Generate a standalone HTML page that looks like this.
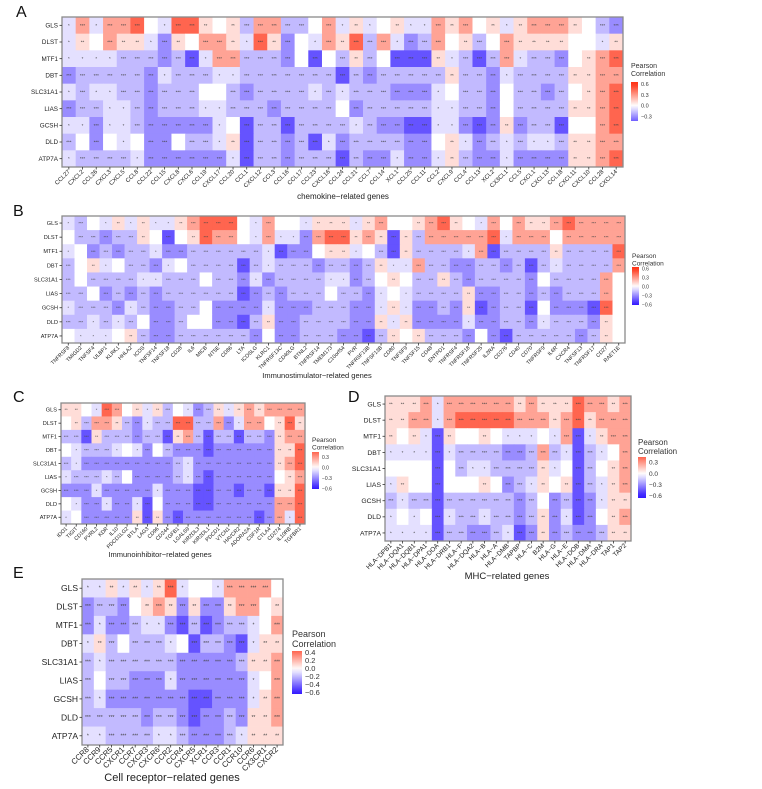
<!DOCTYPE html>
<html><head><meta charset="utf-8"><style>
html,body{margin:0;padding:0;background:#fff;}
svg{display:block;font-family:"Liberation Sans",Arial,sans-serif;}
</style></head><body>
<svg id="s" width="762" height="789" xmlns="http://www.w3.org/2000/svg"></svg>
<script>
const ROWS=["GLS","DLST","MTF1","DBT","SLC31A1","LIAS","GCSH","DLD","ATP7A"];
const VAL={R:0.45,r:0.27,p:0.1,w:0,l:-0.08,v:-0.18,V:-0.3,B:-0.45};
function col(v){let t=Math.min(1,Math.abs(v)/0.6);let c;
 if(v>=0)c=[255,255-205*t,255-235*t];else c=[255-205*t,255-230*t,255];
 return "rgb("+c.map(x=>Math.round(x)).join(",")+")";}
let out="";
function panel(P){
 const n=P.cols.length,cw=(P.x1-P.x0)/n,rh=(P.y1-P.y0)/9;
 P.data.forEach((s,i)=>{const a=s.split(/\s+/).filter(x=>x);
  for(let j=0;j<n;j++){const k=a[j]||"w";const v=VAL[k];
   const x=P.x0+j*cw,y=P.y0+i*rh;
   out+=`<rect x="${x.toFixed(2)}" y="${y.toFixed(2)}" width="${(cw+0.4).toFixed(2)}" height="${(rh+0.4).toFixed(2)}" fill="${col(v)}"/>`;
   if(k!="w"){const st=(Math.abs(v)>0.15)?"***":(Math.abs(v)>0.09?"**":"*");
    out+=`<text x="${(x+cw/2).toFixed(2)}" y="${(y+rh/2+1.5).toFixed(2)}" font-size="${P.sf}" fill="#444" text-anchor="middle">${st}</text>`;}
  }});
 out+=`<rect x="${P.x0}" y="${P.y0}" width="${P.x1-P.x0}" height="${P.y1-P.y0}" fill="none" stroke="#8a8a8a" stroke-width="1.3"/>`;
 ROWS.forEach((r,i)=>{const y=P.y0+(i+0.5)*rh;
  out+=`<text x="${P.x0-4}" y="${(y+P.fs*0.35).toFixed(2)}" font-size="${P.fs}" fill="#222" text-anchor="end">${r}</text>`;
  out+=`<line x1="${P.x0-2.5}" x2="${P.x0}" y1="${y}" y2="${y}" stroke="#333" stroke-width="0.8"/>`;});
 P.cols.forEach((c,j)=>{const x=P.x0+(j+0.5)*cw;
  out+=`<line x1="${x}" x2="${x}" y1="${P.y1}" y2="${P.y1+2.5}" stroke="#333" stroke-width="0.8"/>`;
  out+=`<text transform="translate(${(x+1.5).toFixed(2)},${P.y1+5}) rotate(-45)" font-size="${P.cf}" fill="#222" text-anchor="end">${c}</text>`;});
 out+=`<text x="${P.xl[0]}" y="${P.xl[1]}" font-size="${P.xf}" fill="#222" text-anchor="middle">${P.title}</text>`;
 out+=`<text x="${P.lx}" y="${P.L[1]}" font-size="${P.lf}" fill="#333">Pearson</text><text x="${P.lx}" y="${P.L[1]+P.lf+1}" font-size="${P.lf}" fill="#333">Correlation</text>`;
 const id="g"+P.lx+P.b0;
 out+=`<defs><linearGradient id="${id}" x1="0" y1="0" x2="0" y2="1">`;
 for(let k=0;k<=10;k++){const v=P.vmax-(P.vmax-P.vmin)*k/10;out+=`<stop offset="${k/10}" stop-color="${col(v)}"/>`;}
 out+=`</linearGradient></defs><rect x="${P.lx}" y="${P.b0}" width="${P.bw}" height="${P.b1-P.b0}" fill="url(#${id})"/>`;
 P.ticks.forEach(t=>{const y=P.b0+(P.vmax-t)/(P.vmax-P.vmin)*(P.b1-P.b0);
  out+=`<text x="${P.lx+P.bw+3}" y="${(y+2).toFixed(2)}" font-size="${P.lf-1.5}" fill="#333">${t==0?"0.0":(t<0?"−"+Math.abs(t).toFixed(1):t.toFixed(1))}</text>`;});
}
const A={x0:62,y0:17,x1:623,y1:167,fs:6.3,cf:6,sf:4.5,xf:8,lf:7,
 cols:"CCL27 CXCL2 CCL26 CXCL3 CXCL5 CCL8 CCL22 CCL15 CXCL8 CXCL6 CCL19 CXCL17 CCL20 CCL1 CXCL12 CCL3 CCL16 CCL17 CCL23 CXCL16 CCL24 CCL21 CCL7 CCL14 XCL1 CCL25 CCL11 CCL2 CXCL9 CCL4 CCL13 XCL2 CX3CL1 CCL5 CXCL1 CXCL13 CCL18 CXCL11 CXCL10 CCL28 CXCL14".split(" "),
 data:["l r l r r R w l R R p w p v r r v v w r l p l w p l l r p r w p l p r r r p w v V",
 "l p w r p p l V p w r r p l R p V w l r p R v r l V v r w p v w r p p p p w w l p",
 "l l l l v v v V v B l r r v v v V w B w v p v w B B B p l v B v r l v v V w p r R",
 "V v v v v v V l v v v l l v v v v v v v B v V v v v v v p v v V l v v v v p p r r",
 "l v l l v v V v v v w w v V v v v v l v l v v v V V V l w v v V w v v V v w p r R",
 "V v v l l v V v v v l l v v v V v v v v w V v v v v v l l v v V w v v v v p p r R",
 "l l V l l v V V V V V l w B v v B v v v v l v V V B B l l V B V p V v v B w w r R",
 "v w V w l w V V w v v l p B v v V v B l V v v v v V V w p l V v l v l l v p p r r",
 "l v v v v l V V V V V V l B v v V v v v B v V V l V V l p v V V l V V V V p p r R"],
 title:"chemokine−related genes",xl:[343,199],L:["",68],lx:631,b0:82,b1:121,bw:7,vmax:0.65,vmin:-0.42,ticks:[0.6,0.3,0,-0.3]};
const B={x0:62,y0:216,x1:625,y1:343,fs:5.6,cf:5.3,sf:4,xf:7.5,lf:6.5,
 cols:"TNFRSF8 TMIGD2 TNFSF4 ULBP1 KLRK1 HHLA2 ICOS TNFSF14 TNFSF18 CD28 IL6 MICB NT5E CD86 LTA ICOSLG KLRC1 TNFRSF13C CD40LG BTNL2 TNFRSF14 TMEM173 C10orf54 PVR TNFRSF13B TNFSF13B CD80 TNFSF9 TNFSF15 CD48 ENTPD1 TNFRSF4 TNFRSF18 TNFRSF25 IL2RA CD276 CD40 CD70 TNFRSF9 IL6R CXCR4 TNFSF13 TNFRSF17 CD27 RAET1E".split(" "),
 data:["l v w l p l p l l p r R R R w l r w w l p p p l p r w w p r R p w l r w r p p r R r r r r l",
 "w v v V v v p w B w p R r r w l r l l V r R R p r p B p v r r r r r R l r r r w r r r r r l",
 "l w V v V v v l V V v v v v v v l B V V w p p l w v B p v v v v l r B v v v v p v v v v R",
 "v w p l w v v V l w v v v v B v l v v v V v v V v p l l r v v V V v v V v B v l v v v v r",
 "v w v v v v l l v v v w v v V l V v v v v l l V v w p w v v p v V v v v v V w v v v v r",
 "v v w V v V v V v v v v v v B V v V v v v w v v V l w l v v v v p V V v v V v V v v v r",
 "l v v v V l v V V v v w V V V V l V V V v v v V V l p l V V v V p B V v v B w V V V B R",
 "v v l v l v w V V v w w V V B v p V V v v v v V V p l p V V V V l V V v v V l v v v V p",
 "w l l l w p v V V v v v v v v V w V V v v v V V B v p w p v v v V w V B v v v v v V v p"],
 title:"Immunostimulator−related genes",xl:[317,378],L:["",258],lx:632,b0:267,b1:305,bw:7,vmax:0.65,vmin:-0.62,ticks:[0.6,0.3,0,-0.3,-0.6]};
const C={x0:61,y0:403,x1:305,y1:524,fs:5.6,cf:5.3,sf:4,xf:7.5,lf:6.5,
 cols:"IDO1 TIGIT CD160 PVRL2 KDR IL10 PDCD1LG2 BTLA LAG3 CD96 CD244 TGFB1 LGALS9 KIR2DL3 KIR2DL1 PDCD1 VTCN1 HAVCR2 ADORA2A CSF1R CTLA4 CD274 IL10RB TGFBR1".split(" "),
 data:["p p w l R r w p l p v w l V v p l p r p r r r r",
 "w p v r r p v V l v v R R v v r V l r r w p R p",
 "v v B p v v v V v v B p r v B v v B v v V p r r",
 "w l v v v l w l V w v V V V B V V V V V V p p R",
 "v l V V V V V V V V V v l V V V V V V V V p r R",
 "l v v v l v w V V V V v l V B V V V V V V w p r",
 "V V V l V V V V V l V V V B B V V B V V B p p R",
 "w l V V l V V l B w V V V B B V V V V V V r r R",
 "l w V V V V V p B p V B V V V V V V V B V r l R"],
 title:"Immunoinhibitor−related genes",xl:[160,557],L:["",442],lx:312,b0:452,b1:489,bw:7,vmax:0.45,vmin:-0.62,ticks:[0.3,0,-0.3,-0.6]};
const D={x0:385,y0:396,x1:631,y1:541,fs:6.8,cf:6.5,sf:4.5,xf:9.5,lf:8,
 cols:"HLA−DPB1 HLA−DQA1 HLA−DQB1 HLA−DPA1 HLA−DOA HLA−DRB1 HLA−F HLA−DQA2 HLA−B HLA−A HLA−DMB TAPBP HLA−C B2M HLA−G HLA−E HLA−DOB HLA−DMA HLA−DRA TAP1 TAP2".split(" "),
 data:["p p p r l r r r r r r p r p p p R r r p r",
 "p p r r l r R R R R R r r r p r R p r r r",
 "p w p l B p w w p w l l l w l r B l p r r",
 "l l l l B l v v v v V V v r v l B v l w r",
 "w w w w B w v l l v v v v p l w B v w p r",
 "l p w w B w w w p w V v l p w p B v l p r",
 "v l v v B v v v v v v V v w V v B V l p p",
 "l w l w B l v v l v v V v p V l B V w p r",
 "l l l l B v v V V v l B V p V v V V v p p"],
 title:"MHC−related genes",xl:[507,579],L:["",445],lx:638,b0:457,b1:498,bw:8,vmax:0.45,vmin:-0.65,ticks:[0.3,0,-0.3,-0.6]};
const E={x0:82,y0:579,x1:283,y1:745,fs:8.5,cf:7.8,sf:5,xf:11,lf:9,
 cols:"CCR8 CCR9 CCR5 CXCR1 CCR7 CXCR3 CXCR6 CCR2 CCR4 CXCR5 XCR1 CCR3 CCR1 CCR10 CCR6 CX3CR1 CXCR2".split(" "),
 data:["l l p l p l p R l w w l r r r r w",
 "V v v V w p r p V p V V p r r w p",
 "V l V V v l l V B v B V v v l w r",
 "l p v w v v v l w B v v V B l p p",
 "v l v v v v v v V V V V V v p p r",
 "v w v v V V V l V V V V V V l w r",
 "v l V V V V V V V B B V V V l p r",
 "v v v v v V v v V B V V v V p p r",
 "l l v v v v l l v V V V v l p p p"],
 title:"Cell receptor−related genes",xl:[172,781],L:["",637],lx:292,b0:651,b1:694,bw:10,vmax:0.45,vmin:-0.62,ticks:[0.4,0.2,0,-0.2,-0.4,-0.6]};
[A,B,C,D,E].forEach(panel);
[["A",16,17],["B",13,216],["C",13,402],["D",348,402],["E",13,578]].forEach(l=>{
 out+=`<text x="${l[1]}" y="${l[2]}" font-size="16" fill="#111">${l[0]}</text>`;});
document.getElementById("s").innerHTML=out;
</script>
</body></html>
